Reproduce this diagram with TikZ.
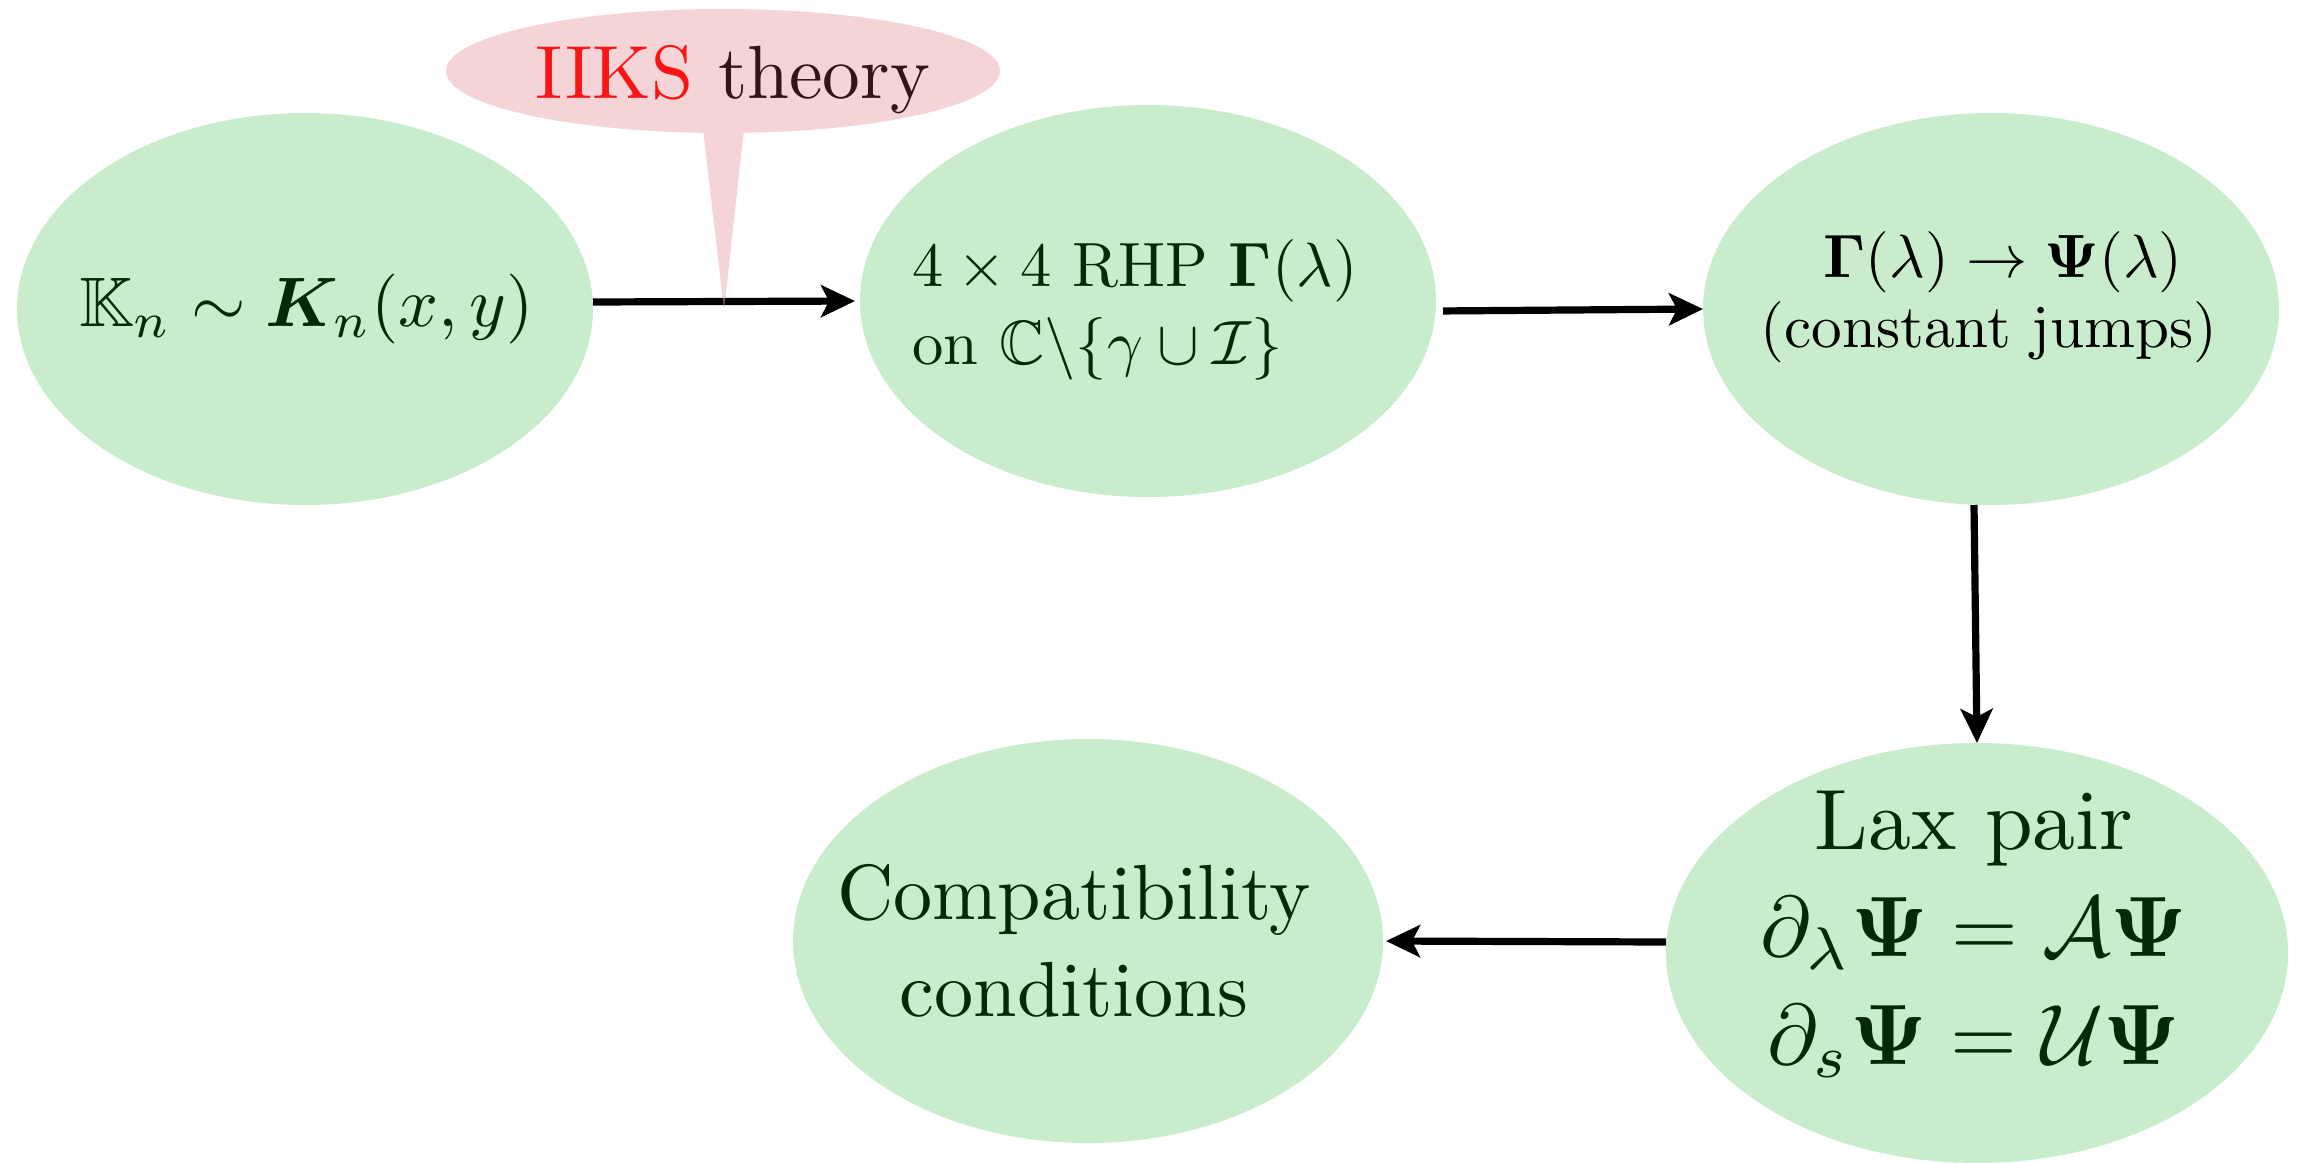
\RequirePackage{fix-cm}
\documentclass[tikz,border=0pt]{standalone}
\usepackage{amsmath,amssymb,bm}
\usetikzlibrary{shapes.geometric,arrows.meta}
\definecolor{blobgreen}{RGB}{200,236,204}
\definecolor{txtgreen}{RGB}{5,40,5}
\definecolor{bubblepink}{RGB}{244,212,214}
\definecolor{tailpink}{RGB}{232,160,165}
\definecolor{iiksred}{RGB}{250,20,20}
\definecolor{theorycol}{RGB}{55,20,20}
\begin{document}
\begin{tikzpicture}[x=0.5pt,y=-0.5pt,
  blob/.style={ellipse, fill=blobgreen, draw=none, inner sep=0pt, outer sep=0pt},
  bubble/.style={ellipse, fill=bubblepink, draw=none, inner sep=0pt, outer sep=0pt},
  arr/.style={-{Stealth[length=17pt,width=16pt,inset=4pt]}, line width=3.6pt, black},
  txt/.style={text=txtgreen, inner sep=0pt, font=\fontsize{10}{12.45}\selectfont}]
\useasboundingbox (0,0) rectangle (2302,1162);
\fill[white] (0,0) rectangle (2302,1162);

% ellipses
\node[blob, minimum width=288pt, minimum height=196pt] (e1) at (305,309) {};
\node[blob, minimum width=288pt, minimum height=196pt] (e2) at (1148,301) {};
\node[blob, minimum width=288pt, minimum height=196pt] (e3) at (1991,309) {};
\node[blob, minimum width=311pt, minimum height=210pt] (e4) at (1977,953) {};
\node[blob, minimum width=295pt, minimum height=202pt] (e5) at (1088,941) {};

% texts
\node[txt, scale=3.5] (t1) at ([xshift=0.75pt]e1.center)
  {$\mathbb{K}_n\sim\bm{K}_n(x,y)$};
\node[txt, scale=3.13, align=left] (t2) at ([xshift=-6.5pt,yshift=-4.65pt]e2.center)
  {$4\times4$ RHP $\mathbf{\Gamma}(\lambda)$\\ on $\mathbb{C}\backslash\{\gamma\cup\mathcal{I}\}$};
\node[txt, text=black, scale=3.06, align=center, font=\fontsize{10}{11.44}\selectfont] (t3) at ([xshift=-1pt,yshift=5.7pt]e3.center)
  {\hspace*{4.6pt}$\mathbf{\Gamma}(\lambda)\to\mathbf{\Psi}(\lambda)$\\(constant jumps)};
\node[txt, scale=4.29, align=center, font=\fontsize{10}{12.53}\selectfont] (t4) at ([xshift=-1.5pt,yshift=9.5pt]e4.center)
  {Lax pair\\ $\partial_\lambda\mathbf{\Psi}=\mathcal{A}\mathbf{\Psi}$\\ $\partial_s\mathbf{\Psi}=\mathcal{U}\mathbf{\Psi}$};
\node[txt, scale=3.91, align=center, font=\fontsize{10}{12.4}\selectfont] (t5) at ([xshift=-7pt]e5.center)
  {Compatibility\\conditions};

% arrows
\draw[arr, shorten >=2.5pt] ([yshift=3.5pt]e1.east) -- (e2.west);
\draw[arr, shorten <=3.5pt] ([yshift=-5pt]e2.east) -- (e3.west);
\draw[arr] ([xshift=-8.5pt]e3.south) -- (e4.north);
\draw[arr, shorten >=1.5pt] ([yshift=5.5pt]e4.west) -- (e5.east);

% callout bubble
\coordinate (tip) at (724,310);
\fill[tailpink, fill opacity=0.45] (702,120) -- (tip) -- (745,120) -- cycle;
\node[bubble, minimum width=277pt, minimum height=62pt] (b) at (723,71) {};
\node[txt, text=theorycol, scale=3.77] (tb) at ([xshift=5pt,yshift=-4.1pt]b.center)
  {\textcolor{iiksred}{IIKS} theory};
\end{tikzpicture}
\end{document}
